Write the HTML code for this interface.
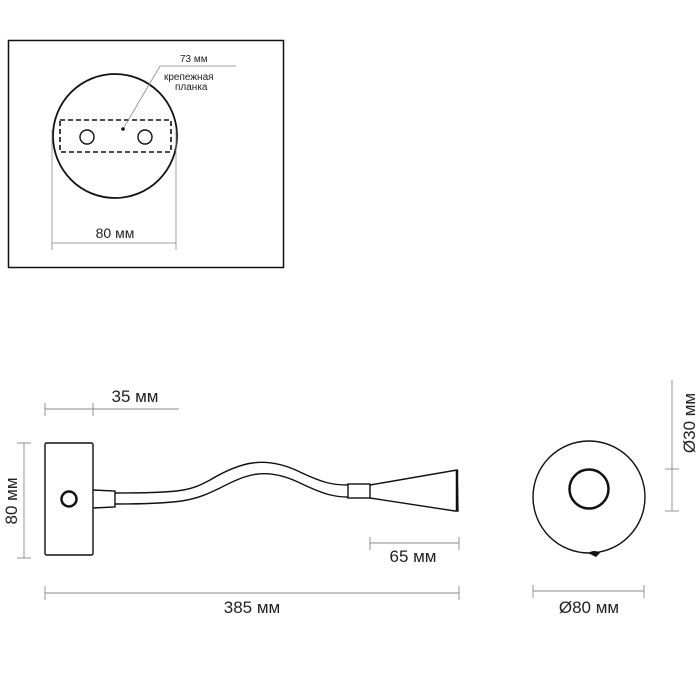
<!DOCTYPE html>
<html><head><meta charset="utf-8"><style>
html,body{margin:0;padding:0;background:#fff}
svg{display:block}
text{font-family:"Liberation Sans",sans-serif;fill:#222}
</style></head><body>
<svg width="700" height="700" viewBox="0 0 700 700" xmlns="http://www.w3.org/2000/svg">
<g fill="none" stroke="#111">
<rect x="8.5" y="40.5" width="275" height="227" stroke-width="1.5"/>
<circle cx="115" cy="136" r="62" stroke-width="1.8"/>
<rect x="60" y="120" width="111" height="32" stroke-width="1.6" stroke-dasharray="5,3"/>
<circle cx="87" cy="137" r="7" stroke-width="1.4"/>
<circle cx="145" cy="137" r="7" stroke-width="1.4"/>
<polyline points="123,129 160,66 236,66" stroke="#888" stroke-width="0.8"/>
<g stroke="#888" stroke-width="0.8">
<line x1="52" y1="130" x2="52" y2="250"/><line x1="176" y1="130" x2="176" y2="250"/>
<line x1="52" y1="243" x2="176" y2="243"/>
</g>
</g>
<circle cx="123" cy="129" r="1.8" fill="#111"/>
<text x="180" y="62" font-size="10">73 мм</text>
<text x="164" y="80" font-size="10">крепежная</text>
<text x="175" y="90" font-size="10">планка</text>
<text x="115" y="238" font-size="14" text-anchor="middle">80 мм</text>

<g fill="none" stroke="#111" stroke-width="1.4">
<rect x="45" y="443" width="48" height="112" rx="1.5"/>
<circle cx="69" cy="499" r="7.5" stroke-width="2.5"/>
<path d="M93,490 L115,491 L115,507 L93,508"/>
<path d="M115,493 C180,493 190,491 210,480 C240,462 265,455 300,472 C325,484 335,485 348,485"/>
<path d="M115,504 C185,504 195,500 220,488 C245,475 265,466 300,483 C325,495 335,497 348,497"/>
<rect x="348" y="484" width="22" height="14"/>
<path d="M370,485 L457,470 L458,511 L455,511 L370,498"/>
<line x1="457" y1="470" x2="457" y2="511" stroke-width="2.5"/>
<circle cx="589" cy="497" r="56" stroke-width="1.4"/>
<circle cx="589" cy="489" r="19.5" stroke-width="2.5"/>
</g>
<path d="M588,553 Q595,549 600,553 L596,557 Z" fill="#111"/>
<g stroke="#888" stroke-width="0.9">
<line x1="45" y1="409" x2="179" y2="409"/><line x1="45" y1="403" x2="45" y2="416"/><line x1="93" y1="403" x2="93" y2="416"/>
<line x1="24" y1="443" x2="24" y2="558"/><line x1="17" y1="443" x2="31" y2="443"/><line x1="17" y1="558" x2="31" y2="558"/>
<line x1="370" y1="543" x2="459" y2="543"/><line x1="370" y1="537" x2="370" y2="550"/><line x1="459" y1="537" x2="459" y2="550"/>
<line x1="45" y1="593" x2="459" y2="593"/><line x1="45" y1="586" x2="45" y2="600"/><line x1="459" y1="586" x2="459" y2="600"/>
<line x1="672" y1="380" x2="672" y2="511"/><line x1="665" y1="469" x2="679" y2="469"/><line x1="665" y1="511" x2="679" y2="511"/>
<line x1="533" y1="591" x2="644" y2="591"/><line x1="533" y1="585" x2="533" y2="598"/><line x1="644" y1="585" x2="644" y2="598"/>
</g>
<text x="135" y="402" font-size="17" text-anchor="middle">35 мм</text>
<text x="0" y="0" font-size="17" text-anchor="middle" transform="translate(17,501) rotate(-90)">80 мм</text>
<text x="413" y="562" font-size="17" text-anchor="middle">65 мм</text>
<text x="252" y="613" font-size="17" text-anchor="middle">385 мм</text>
<text x="0" y="0" font-size="17" text-anchor="middle" transform="translate(695,423) rotate(-90)">Ø30 мм</text>
<text x="589" y="613" font-size="17" text-anchor="middle">Ø80 мм</text>
</svg>
</body></html>
